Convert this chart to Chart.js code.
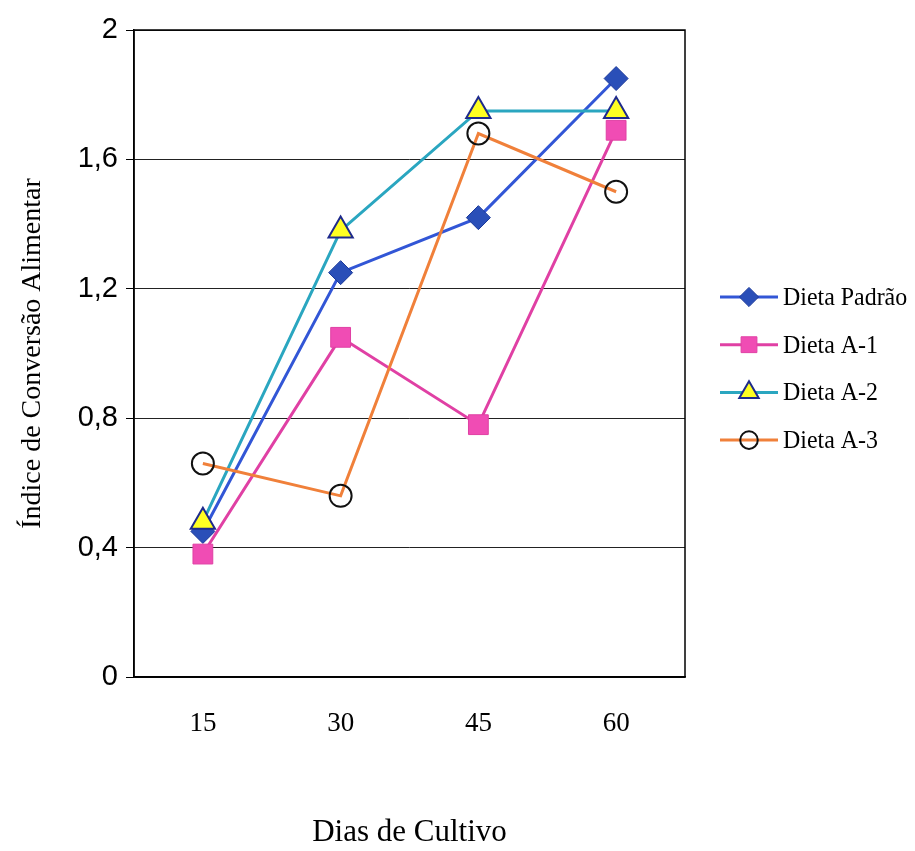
<!DOCTYPE html>
<html>
<head>
<meta charset="utf-8">
<title>Índice de Conversão Alimentar</title>
<script src="https://cdn.jsdelivr.net/npm/chart.js@4.4.0/dist/chart.umd.min.js"></script>
<style>
  html, body { margin: 0; padding: 0; background: #fff; }
</style>
</head>
<body>
<canvas id="grafico" width="915" height="851"></canvas>
<script>
// dias de cultivo e índice de conversão por dieta
const dias = ['15', '30', '45', '60'];
const dietaPadrao = [0.45, 1.25, 1.42, 1.85];
const dietaA1 = [0.38, 1.05, 0.78, 1.69];
const dietaA2 = [0.48, 1.38, 1.75, 1.75];
const dietaA3 = [0.66, 0.56, 1.68, 1.50];
const rotulosY = ['0', '0,4', '0,8', '1,2', '1,6', '2'];

const serif = "'Liberation Serif', 'Times New Roman', serif";
const sans = "'Liberation Sans', Arial, sans-serif";

// moldura do gráfico (lado direito)
const moldura = {
  id: 'moldura',
  beforeDatasetsDraw(chart) {
    const a = chart.chartArea;
    const ctx = chart.ctx;
    ctx.save();
    ctx.strokeStyle = '#000';
    ctx.lineWidth = 1.5;
    ctx.strokeRect(a.left, a.top, a.right - a.left, a.bottom - a.top);
    ctx.restore();
  }
};

// legenda com linha e marcador, à direita
const legenda = {
  id: 'legenda',
  afterDraw(chart) {
    const ctx = chart.ctx;
    const x0 = chart.chartArea.right + 35;
    ctx.save();
    chart.data.datasets.forEach(function (ds, i) {
      const y = 297 + i * 47.7;
      ctx.strokeStyle = ds.borderColor;
      ctx.lineWidth = 3;
      ctx.beginPath();
      ctx.moveTo(x0, y);
      ctx.lineTo(x0 + 58, y);
      ctx.stroke();
      ctx.fillStyle = ds.pointBackgroundColor;
      ctx.strokeStyle = ds.pointBorderColor;
      ctx.lineWidth = ds.pointBorderWidth;
      Chart.helpers.drawPoint(ctx, {
        pointStyle: ds.pointStyle,
        radius: ds.pointRadius * 0.8,
        rotation: 0,
        borderWidth: ds.pointBorderWidth
      }, x0 + 29, y);
      // texto um pouco condensado
      ctx.save();
      ctx.translate(x0 + 63, y + 1);
      ctx.scale(0.92, 1);
      ctx.fillStyle = '#000';
      ctx.font = '26px ' + serif;
      ctx.textBaseline = 'middle';
      ctx.textAlign = 'left';
      ctx.fillText(ds.label, 0, 0);
      ctx.restore();
    });
    ctx.restore();
  }
};

new Chart(document.getElementById('grafico'), {
  type: 'line',
  data: {
    labels: dias,
    datasets: [{
      label: 'Dieta Padrão',
      data: dietaPadrao,
      borderColor: '#3256d6',
      pointBackgroundColor: '#2a4fb8',
      pointBorderColor: '#1c3a9a',
      pointBorderWidth: 1,
      pointStyle: 'rectRot',
      pointRadius: 12,
      order: 4
    }, {
      label: 'Dieta A-1',
      data: dietaA1,
      borderColor: '#e040a4',
      pointBackgroundColor: '#f04cb4',
      pointBorderColor: '#e040a4',
      pointBorderWidth: 1,
      pointStyle: 'rect',
      pointRadius: 14,
      order: 3
    }, {
      label: 'Dieta A-2',
      data: dietaA2,
      borderColor: '#2aa6c0',
      pointBackgroundColor: '#ffff22',
      pointBorderColor: '#1e2a8c',
      pointBorderWidth: 2,
      pointStyle: 'triangle',
      pointRadius: 14,
      order: 2
    }, {
      label: 'Dieta A-3',
      data: dietaA3,
      borderColor: '#f0803a',
      pointBackgroundColor: 'rgba(0,0,0,0)',
      pointBorderColor: '#111',
      pointBorderWidth: 2,
      pointStyle: 'circle',
      pointRadius: 11,
      order: 1
    }]
  },
  options: {
    responsive: false,
    animation: false,
    clip: false,
    datasets: {
      line: { borderWidth: 3, tension: 0, fill: false }
    },
    layout: { padding: { left: 10, right: 230, top: 30, bottom: 0 } },
    plugins: {
      legend: { display: false },
      tooltip: { enabled: false }
    },
    events: [],
    scales: {
      x: {
        offset: true,
        grid: { display: false, drawTicks: false },
        border: { display: true, color: '#000', width: 1.5 },
        ticks: { color: '#000', padding: 31, font: { family: serif, size: 27 } },
        title: {
          display: true,
          text: 'Dias de Cultivo',
          color: '#000',
          padding: { top: 0, bottom: 0 },
          font: { family: serif, size: 31 }
        },
        afterFit: function (scale) { scale.height = 174; }
      },
      y: {
        min: 0,
        max: 2,
        ticks: {
          stepSize: 0.4,
          color: '#000',
          padding: 8,
          font: { family: sans, size: 29 },
          callback: function (value, index) { return rotulosY[index]; }
        },
        grid: { color: '#222', lineWidth: 1, tickLength: 8, tickColor: '#000' },
        border: { display: true, color: '#000', width: 1.5 },
        title: {
          display: true,
          text: 'Índice de Conversão Alimentar',
          color: '#000',
          padding: { top: 6, bottom: 0 },
          font: { family: serif, size: 28 }
        },
        afterFit: function (scale) { scale.width = 124; }
      }
    }
  },
  plugins: [moldura, legenda]
});
</script>
</body>
</html>
